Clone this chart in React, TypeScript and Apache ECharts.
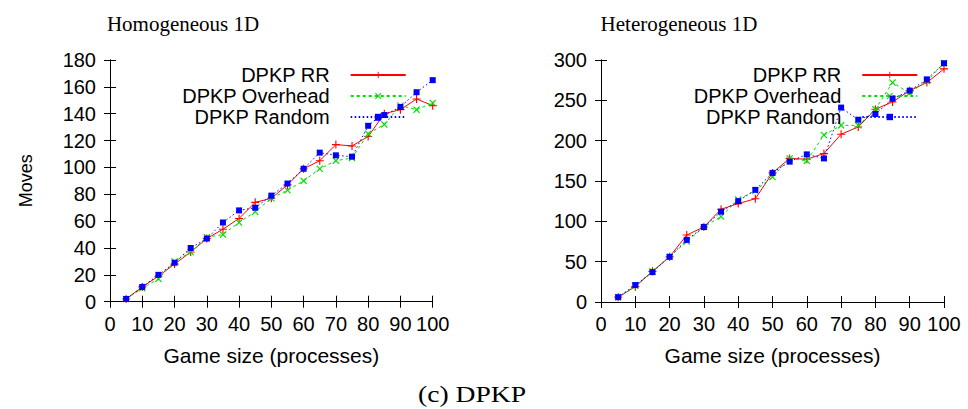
import React, { useEffect, useRef } from "react";
import * as echarts from "echarts";

const seriesNames = ["DPKP RR", "DPKP Overhead", "DPKP Random"];
const xTickLabels = ["0", "10", "20", "30", "40", "50", "60", "70", "80", "90", "100"];

const homoX = [5, 10, 15, 20, 25, 30, 35, 40, 45, 50, 55, 60, 65, 70, 75, 80, 85, 90, 95, 100];
const homoRR = [2, 11, 19, 28, 37, 47, 54, 62, 74, 77, 87, 99, 105, 117, 116, 123, 140, 143, 151, 146];
const homoOverhead = [2, 10, 17, 30, 37, 48, 50, 59, 67, 77, 83, 90, 99, 105, 107, 125, 132, 146, 143, 148];
const homoRandomX = [5, 10, 15, 20, 25, 30, 35, 40, 45, 50, 55, 60, 65, 70, 75, 80, 83, 85, 90, 95, 100];
const homoRandom = [2, 11, 20, 29, 40, 47, 59, 68, 70, 79, 88, 99, 111, 109, 108, 131, 137, 139, 145, 156, 165];

const heteroX = [5, 10, 15, 20, 25, 30, 35, 40, 45, 50, 55, 60, 65, 70, 75, 80, 85, 90, 95, 100];
const heteroRR = [6, 19, 38, 56, 83, 93, 115, 122, 128, 160, 178, 177, 184, 208, 217, 239, 248, 262, 272, 289];
const heteroOverhead = [6, 20, 38, 56, 75, 93, 106, 127, 138, 155, 178, 175, 207, 219, 219, 239, 272, 259, 274, 296];
const heteroRandom = [6, 21, 37, 56, 77, 93, 112, 125, 139, 160, 174, 183, 178, 241, 226, 233, 252, 262, 276, 296];

const titles = ["Homogeneous 1D", "Heterogeneous 1D"];
const caption = "(c) DPKP";
const yAxisTitle = "Moves";
const xAxisTitle = "Game size (processes)";

const SANS = "Liberation Sans";
const SERIF = "Liberation Serif";

const PLUS = "path://M4.3,0H5.7V4.3H10V5.7H5.7V10H4.3V5.7H0V4.3H4.3Z";
const CROSS = "path://M0,1.2L1.2,0L5,3.8L8.8,0L10,1.2L6.2,5L10,8.8L8.8,10L5,6.2L1.2,10L0,8.8L3.8,5Z";
const STAR = "path://M0,0H10V10H0Z";

const zip = (xs: number[], ys: number[]) => xs.map((x, i) => [x, ys[i]]);

const styles = [
  { color: "#ff0000", type: "solid", symbol: PLUS, size: 8 },
  { color: "#00e000", type: [3, 3], symbol: CROSS, size: 7 },
  { color: "#0000ff", type: [1.5, 2.5], symbol: STAR, size: 6 },
];

function makeSeries(grid: number, data: number[][][]) {
  return data.map((d, i) => ({
    name: seriesNames[i],
    type: "line",
    xAxisIndex: grid * 2,
    yAxisIndex: grid * 2,
    data: d,
    symbol: styles[i].symbol,
    symbolSize: styles[i].size,
    showAllSymbol: true,
    lineStyle: { color: styles[i].color, width: 1, type: styles[i].type },
    itemStyle: { color: styles[i].color, borderColor: styles[i].color, borderWidth: 0 },
    z: 2 + i,
  }));
}

const textStyle = (text: string, size: number) => ({
  text,
  fontFamily: SERIF,
  fontSize: size,
  fill: "#000",
  align: "center",
  textAlign: "center",
  verticalAlign: "middle",
  textVerticalAlign: "middle",
});

export default function App() {
  const ref = useRef<HTMLDivElement>(null);
  useEffect(() => {
    if (!ref.current) return;
    const chart = echarts.init(ref.current, undefined, { renderer: "svg" });
    const grids = [
      { left: 110, right: 968 - 432.7, top: 60, bottom: 409 - 301.7 },
      { left: 601, right: 968 - 944, top: 60, bottom: 409 - 302 },
    ];
    const axisLine = { show: true, lineStyle: { color: "#000", width: 1 } };
    const tick = { show: true, inside: true, length: 6, lineStyle: { color: "#000", width: 1 } };
    const lbl = { color: "#000", fontFamily: SANS, fontSize: 20 };
    const xAxes: any[] = [];
    const yAxes: any[] = [];
    const yMax = [180, 300];
    const yInt = [20, 50];
    [0, 1].forEach((g) => {
      xAxes.push({
        type: "value",
        gridIndex: g,
        min: 0,
        max: 100,
        interval: 10,
        position: "bottom",
        axisLine,
        axisTick: tick,
        splitLine: { show: false },
        axisLabel: {
          ...lbl,
          margin: 12,
          formatter: (v: number) => xTickLabels[Math.round(v / 10)],
        },
        name: xAxisTitle,
        nameLocation: "middle",
        nameGap: 43,
        nameTextStyle: { color: "#000", fontFamily: SANS, fontSize: 21 },
      });
      xAxes.push({
        type: "value",
        gridIndex: g,
        min: 0,
        max: 100,
        interval: 10,
        position: "top",
        axisLine,
        axisTick: tick,
        axisLabel: { show: false },
        splitLine: { show: false },
      });
      yAxes.push({
        type: "value",
        gridIndex: g,
        min: 0,
        max: yMax[g],
        interval: yInt[g],
        position: "left",
        axisLine,
        axisTick: tick,
        splitLine: { show: false },
        axisLabel: { ...lbl, margin: 14 },
        name: g === 0 ? yAxisTitle : "",
        nameLocation: "middle",
        nameRotate: 90,
        nameGap: 75,
        nameTextStyle: { color: "#000", fontFamily: SANS, fontSize: 18 },
      });
      yAxes.push({
        type: "value",
        gridIndex: g,
        min: 0,
        max: yMax[g],
        interval: yInt[g],
        position: "right",
        axisLine,
        axisTick: tick,
        axisLabel: { show: false },
        splitLine: { show: false },
      });
    });
    const legendBase = {
      orient: "vertical",
      align: "right",
      top: 64.5,
      padding: 0,
      itemGap: 0,
      itemWidth: 55,
      itemHeight: 8,
      selectedMode: false,
      data: seriesNames,
      textStyle: {
        color: "#000",
        fontFamily: SANS,
        fontSize: 20,
        lineHeight: 21,
        padding: [0, 16, 0, 0],
      },
    };
    const option: any = {
      animation: false,
      grid: grids,
      xAxis: xAxes,
      yAxis: yAxes,
      legend: [
        { ...legendBase, right: 968 - 406.7 },
        { ...legendBase, right: 968 - 918.3 },
      ],
      series: [
        ...makeSeries(0, [zip(homoX, homoRR), zip(homoX, homoOverhead), zip(homoRandomX, homoRandom)]),
        ...makeSeries(1, [zip(heteroX, heteroRR), zip(heteroX, heteroOverhead), zip(heteroX, heteroRandom)]),
      ],
      graphic: [
        { type: "text", x: 183, y: 24, style: textStyle(titles[0], 21) },
        { type: "text", x: 679, y: 24, style: textStyle(titles[1], 21) },
        { type: "text", x: 472, y: 394, scaleX: 1.2, style: textStyle(caption, 23) },
      ],
    };
    chart.setOption(option);
    return () => chart.dispose();
  }, []);
  return (
    <div
      ref={ref}
      style={{ position: "absolute", left: 0, top: 0, width: 968, height: 409, background: "#fff" }}
    />
  );
}
